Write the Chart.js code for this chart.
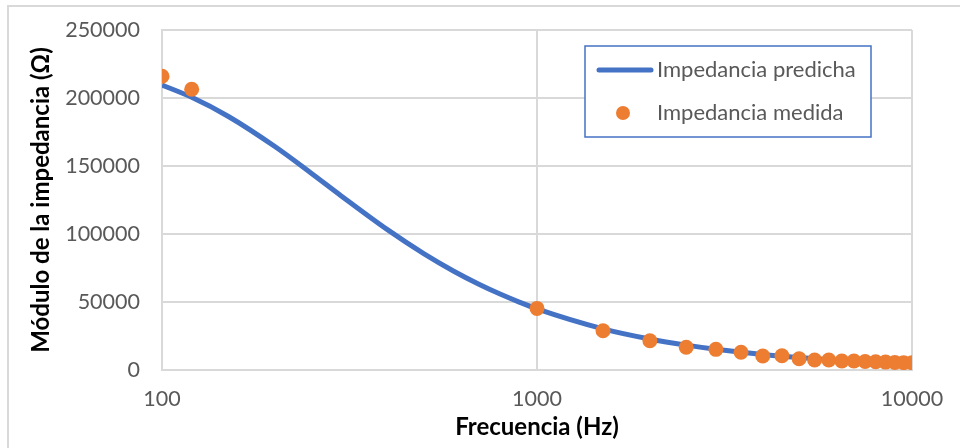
<!DOCTYPE html>
<html>
<head>
<meta charset="utf-8">
<script src="https://cdn.jsdelivr.net/npm/chart.js@4/dist/chart.umd.min.js"></script>
<style>
  html, body { margin: 0; padding: 0; background: #ffffff; }
  #wrap { position: relative; width: 960px; height: 448px; }
</style>
</head>
<body>
<div id="wrap"><canvas id="chart" width="960" height="448"></canvas></div>
<script>
// Predicted impedance magnitude (Ω) versus frequency (Hz)
const predFreq = [100, 120, 150, 200, 250, 300, 400, 500, 600, 700, 800, 900, 1000,
                  1500, 2000, 2500, 3000, 4000, 5000, 6000, 7000, 8000, 9000, 10000];
const predZ    = [209500, 200500, 186600, 164300, 144700, 128200, 103000, 85400, 72650,
                  63070, 55660, 49770, 44980, 30290, 22810, 18280, 15240, 11440, 9160,
                  7630, 6540, 5730, 5090, 4580];

// Measured impedance magnitude (Ω)
const measFreq = [100, 120, 1000, 1500, 2000, 2500, 3000, 3500, 4000, 4500, 5000, 5500,
                  6000, 6500, 7000, 7500, 8000, 8500, 9000, 9500, 10000];
const measZ    = [216000, 206400, 45300, 28900, 21500, 16700, 15200, 13000, 10300, 10500,
                  8300, 7400, 7400, 6600, 6600, 6200, 6100, 5800, 5600, 5400, 5300];

const xTicks = [100, 1000, 10000];
const yTicks = [0, 50000, 100000, 150000, 200000, 250000];

const seriesNames = ['Impedancia predicha', 'Impedancia medida'];
const xTitle = 'Frecuencia (Hz)';
const yTitle = 'Módulo de la impedancia (Ω)';

const BLUE = '#4472C4';
const ORANGE = '#ED7D31';
const GRID = '#d9d9d9';
const TICK = '#595959';
const FONT = 'Lato, "Open Sans", sans-serif';

const toPoints = (xs, ys) => xs.map((x, i) => ({ x: x, y: ys[i] }));

// Frame around the whole figure
const framePlugin = {
  id: 'frame',
  beforeDraw(chart) {
    const ctx = chart.ctx;
    ctx.save();
    ctx.strokeStyle = GRID;
    ctx.lineWidth = 2;
    ctx.strokeRect(8, 6, chart.width + 10, chart.height + 10);
    ctx.restore();
  }
};

// Boxed legend inside the plot area
const boxLegendPlugin = {
  id: 'boxLegend',
  afterDraw(chart) {
    const ctx = chart.ctx;
    const a = chart.chartArea;
    const x0 = a.left + 423, y0 = a.top + 16, w = 286, h = 91;
    ctx.save();
    ctx.fillStyle = '#ffffff';
    ctx.fillRect(x0, y0, w, h);
    ctx.strokeStyle = BLUE;
    ctx.lineWidth = 1.5;
    ctx.strokeRect(x0, y0, w, h);

    const ds = chart.data.datasets;
    const row1 = y0 + 24, row2 = y0 + 67, textX = x0 + 72;
    // line sample
    ctx.strokeStyle = ds[0].borderColor;
    ctx.lineWidth = 5;
    ctx.lineCap = 'round';
    ctx.beginPath();
    ctx.moveTo(x0 + 14, row1);
    ctx.lineTo(x0 + 66, row1);
    ctx.stroke();
    // marker sample
    ctx.fillStyle = ds[1].backgroundColor;
    ctx.beginPath();
    ctx.arc(x0 + 38, row2, 7, 0, Math.PI * 2);
    ctx.fill();

    ctx.fillStyle = TICK;
    ctx.font = '22px ' + FONT;
    ctx.textBaseline = 'middle';
    ctx.textAlign = 'left';
    ctx.fillText(ds[0].label, textX, row1);
    ctx.fillText(ds[1].label, textX, row2);
    ctx.restore();
  }
};

new Chart(document.getElementById('chart'), {
  data: {
    datasets: [
      {
        type: 'line',
        label: seriesNames[0],
        data: toPoints(predFreq, predZ),
        borderColor: BLUE,
        backgroundColor: BLUE,
        borderWidth: 5,
        pointRadius: 0,
        cubicInterpolationMode: 'monotone',
        fill: false,
        order: 2
      },
      {
        type: 'scatter',
        label: seriesNames[1],
        data: toPoints(measFreq, measZ),
        backgroundColor: ORANGE,
        borderColor: ORANGE,
        borderWidth: 0,
        pointRadius: 7.5,
        order: 1
      }
    ]
  },
  options: {
    responsive: false,
    animation: false,
    layout: { padding: { left: 10, right: 48, top: 30, bottom: 6 } },
    plugins: {
      legend: { display: false },
      tooltip: { enabled: false }
    },
    scales: {
      x: {
        type: 'logarithmic',
        min: 100,
        max: 10000,
        afterBuildTicks(scale) { scale.ticks = xTicks.map(v => ({ value: v })); },
        afterFit(scale) { scale.height = 72; },
        border: { color: GRID, width: 2 },
        grid: { color: GRID, lineWidth: 2, drawTicks: false },
        ticks: {
          color: TICK,
          font: { family: FONT, size: 21.5 },
          padding: 16,
          maxRotation: 0,
          autoSkip: false,
          callback: v => String(v)
        },
        title: {
          display: true,
          text: xTitle,
          color: '#000000',
          font: { family: FONT, size: 24, weight: 'bold' },
          padding: { top: 0, bottom: 0 }
        }
      },
      y: {
        min: 0,
        max: 250000,
        afterBuildTicks(scale) { scale.ticks = yTicks.map(v => ({ value: v })); },
        afterFit(scale) {
          scale.width = 152;
          scale.paddingTop = 12;
          scale.paddingBottom = 12;
        },
        border: { color: GRID, width: 2 },
        grid: { color: GRID, lineWidth: 2, drawTicks: false },
        ticks: {
          color: TICK,
          font: { family: FONT, size: 21.5 },
          padding: 22,
          callback: v => String(v)
        },
        title: {
          display: true,
          text: yTitle,
          color: '#000000',
          font: { family: FONT, size: 24, weight: 'bold' },
          padding: { top: 17, bottom: 0 }
        }
      }
    }
  },
  plugins: [framePlugin, boxLegendPlugin]
});
</script>
</body>
</html>
